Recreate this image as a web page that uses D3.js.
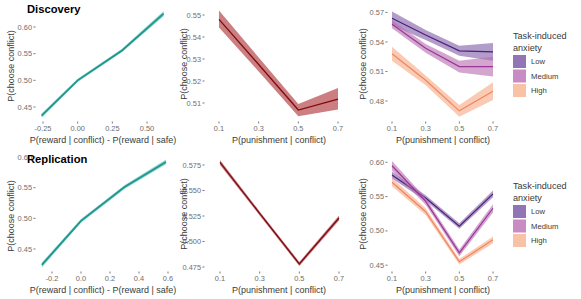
<!DOCTYPE html>
<html><head><meta charset="utf-8">
<script src="https://cdn.jsdelivr.net/npm/d3@7"></script>
<style>
html,body{margin:0;padding:0;background:#fff;}
svg{display:block;font-family:"Liberation Sans",Arial,sans-serif;}
</style></head>
<body>
<svg id="c" width="581" height="299"></svg>
<script>
// ---------- DATA ----------
const rewardX_disc  = [-0.26, 0.0, 0.32, 0.62];
const rewardP_disc  = [0.434, 0.500, 0.556, 0.625];
const rewardLo_disc = [0.430, 0.497, 0.553, 0.620];
const rewardHi_disc = [0.438, 0.503, 0.559, 0.630];

const rewardX_rep  = [-0.27, 0.0, 0.30, 0.586];
const rewardP_rep  = [0.424, 0.496, 0.551, 0.592];
const rewardLo_rep = [0.420, 0.493, 0.548, 0.588];
const rewardHi_rep = [0.428, 0.499, 0.554, 0.596];

const punishX = [0.1, 0.3, 0.5, 0.7];
const punishP_disc  = [0.548, 0.5275, 0.5068, 0.5118];
const punishLo_disc = [0.5443, 0.5243, 0.5040, 0.5070];
const punishHi_disc = [0.5520, 0.5307, 0.5096, 0.5168];

const punishP_rep  = [0.5775, 0.5275, 0.4780, 0.5230];
const punishLo_rep = [0.5750, 0.5255, 0.4760, 0.5205];
const punishHi_rep = [0.5800, 0.5295, 0.4800, 0.5255];

const anxietyLevels = ["Low", "Medium", "High"];
const anxDisc = {
  Low:    {p:[0.564, 0.547, 0.531, 0.530], lo:[0.557, 0.542, 0.526, 0.521], hi:[0.571, 0.552, 0.536, 0.539]},
  Medium: {p:[0.558, 0.5335, 0.515, 0.515], lo:[0.554, 0.529, 0.509, 0.505], hi:[0.562, 0.538, 0.521, 0.525]},
  High:   {p:[0.528, 0.501, 0.470, 0.490], lo:[0.521, 0.496, 0.464, 0.481], hi:[0.535, 0.506, 0.476, 0.499]}
};
const anxRep = {
  Low:    {p:[0.5815, 0.548, 0.507, 0.554], lo:[0.5765, 0.544, 0.503, 0.549], hi:[0.5865, 0.552, 0.511, 0.559]},
  Medium: {p:[0.595, 0.543, 0.468, 0.533], lo:[0.588, 0.538, 0.463, 0.527], hi:[0.602, 0.548, 0.473, 0.539]},
  High:   {p:[0.571, 0.528, 0.455, 0.487], lo:[0.565, 0.523, 0.451, 0.482], hi:[0.577, 0.533, 0.459, 0.492]}
};

const rewardTicks_disc = [-0.25, 0, 0.25, 0.5];
const rewardTickLabels_disc = ["-0.25", "0.00", "0.25", "0.50"];
const rewardTicks_rep = [-0.2, 0, 0.2, 0.4, 0.6];
const rewardTickLabels_rep = ["-0.2", "0.0", "0.2", "0.4", "0.6"];
const punishTicks = [0.1, 0.3, 0.5, 0.7];
const punishTickLabels = ["0.1", "0.3", "0.5", "0.7"];

const yTicks_p1d = [0.45, 0.50, 0.55, 0.60], yLab_p1d = ["0.45","0.50","0.55","0.60"];
const yTicks_p2d = [0.51, 0.52, 0.53, 0.54, 0.55], yLab_p2d = ["0.51","0.52","0.53","0.54","0.55"];
const yTicks_p3d = [0.48, 0.51, 0.54, 0.57], yLab_p3d = ["0.48","0.51","0.54","0.57"];
const yTicks_p1r = [0.45, 0.50, 0.55, 0.60], yLab_p1r = ["0.45","0.50","0.55","0.60"];
const yTicks_p2r = [0.475, 0.5, 0.525, 0.55, 0.575], yLab_p2r = ["0.475","0.500","0.525","0.550","0.575"];
const yTicks_p3r = [0.45, 0.50, 0.55, 0.60], yLab_p3r = ["0.45","0.50","0.55","0.60"];

const titles = ["Discovery", "Replication"];
const yTitle = "P(choose conflict)";
const xTitleReward = "P(reward | conflict) - P(reward | safe)";
const xTitlePunish = "P(punishment | conflict)";
const legendTitle = ["Task-induced", "anxiety"];

// ---------- STYLE ----------
const anxFill = {Low:"#7e5aa6", Medium:"#b66bb0", High:"#f7a882"};
const anxLine = {Low:"#4b1f7a", Medium:"#9c3596", High:"#f0855e"};
const anxKey  = {Low:"#9275b6", Medium:"#c98bc4", High:"#f8c2a6"};

const svg = d3.select("#c");
const tickCol = "#6e6e6e", titleCol = "#3a3a3a";
const tickFont = 7.4, axisFont = 9.0;

function panel(o){
  const x = d3.scaleLinear().domain(o.xd).range(o.xr);
  const y = d3.scaleLinear().domain(o.yd).range(o.yr);
  const g = svg.append("g");
  o.yt.forEach((t,i)=>{
    g.append("line").attr("x1",o.left-2.5).attr("x2",o.left-0.5)
      .attr("y1",y(t)).attr("y2",y(t)).attr("stroke","#555").attr("stroke-width",0.8);
    g.append("text").attr("x",o.left-4).attr("y",y(t)).attr("dy","0.35em")
      .attr("text-anchor","end").attr("font-size",tickFont).attr("fill",tickCol).text(o.yl[i]);
  });
  o.xt.forEach((t,i)=>{
    g.append("line").attr("x1",x(t)).attr("x2",x(t))
      .attr("y1",o.bottom+0.5).attr("y2",o.bottom+2.5).attr("stroke","#555").attr("stroke-width",0.8);
    g.append("text").attr("x",x(t)).attr("y",o.bottom+9.8)
      .attr("text-anchor","middle").attr("font-size",tickFont).attr("fill",tickCol).text(o.xl[i]);
  });
  g.append("text").attr("x",o.xtc).attr("y",o.bottom+21.5)
    .attr("text-anchor","middle").attr("font-size",axisFont).attr("fill",titleCol).text(o.xTitle);
  g.append("text").attr("transform",`translate(${o.ytx},${o.yty}) rotate(-90)`)
    .attr("text-anchor","middle").attr("font-size",axisFont).attr("fill",titleCol).text(yTitle);
  o.series.forEach(s=>{
    const idx = d3.range(s.x.length);
    const area = d3.area().x(i=>x(s.x[i])).y0(i=>y(s.lo[i])).y1(i=>y(s.hi[i]));
    const line = d3.line().x(i=>x(s.x[i])).y(i=>y(s.p[i]));
    g.append("path").attr("d",area(idx)).attr("fill",s.fill).attr("fill-opacity",s.fo);
    g.append("path").attr("d",line(idx)).attr("fill","none").attr("stroke",s.line).attr("stroke-width",s.lw);
  });
}

const rows = [
  {yoff:0, rx:rewardX_disc, rp:rewardP_disc, rlo:rewardLo_disc, rhi:rewardHi_disc,
   rt:rewardTicks_disc, rl:rewardTickLabels_disc, pp:punishP_disc, plo:punishLo_disc, phi:punishHi_disc, anx:anxDisc,
   p1:{xd:[-0.25,0.5], xr:[43,147], yd:[0.45,0.60], yr:[107,27], yt:yTicks_p1d, yl:yLab_p1d},
   p2:{xd:[0.1,0.7], xr:[219,338], yd:[0.51,0.55], yr:[103,15], yt:yTicks_p2d, yl:yLab_p2d},
   p3:{xd:[0.1,0.7], xr:[392,493], yd:[0.48,0.57], yr:[101,12.4], yt:yTicks_p3d, yl:yLab_p3d}},
  {yoff:150, rx:rewardX_rep, rp:rewardP_rep, rlo:rewardLo_rep, rhi:rewardHi_rep,
   rt:rewardTicks_rep, rl:rewardTickLabels_rep, pp:punishP_rep, plo:punishLo_rep, phi:punishHi_rep, anx:anxRep,
   p1:{xd:[-0.2,0.6], xr:[52,168], yd:[0.45,0.60], yr:[249,157], yt:yTicks_p1r, yl:yLab_p1r},
   p2:{xd:[0.1,0.7], xr:[220,339], yd:[0.475,0.575], yr:[267,165], yt:yTicks_p2r, yl:yLab_p2r},
   p3:{xd:[0.1,0.7], xr:[392,493], yd:[0.45,0.60], yr:[265.2,162.3], yt:yTicks_p3r, yl:yLab_p3r}}
];

rows.forEach((r,ri)=>{
  const b = 121 + r.yoff;
  panel(Object.assign({}, r.p1, {left:36, bottom:b, xt:r.rt, xl:r.rl, xTitle:xTitleReward,
    xtc:103, ytx:14, yty:66+r.yoff,
    series:[{x:r.rx, p:r.rp, lo:r.rlo, hi:r.rhi, fill:"#3fb3a8", fo:0.55, line:"#1f978e", lw:1.8}]}));
  panel(Object.assign({}, r.p2, {left:205, bottom:b, xt:punishTicks, xl:punishTickLabels, xTitle:xTitlePunish,
    xtc:279, ytx:187, yty:64+r.yoff,
    series:[{x:punishX, p:r.pp, lo:r.plo, hi:r.phi, fill:"#b0393d", fo:0.65, line:"#7a0c12", lw:1.3}]}));
  panel(Object.assign({}, r.p3, {left:388, bottom:b, xt:punishTicks, xl:punishTickLabels, xTitle:xTitlePunish,
    xtc:443, ytx:366, yty:64+r.yoff,
    series:anxietyLevels.map(k=>({x:punishX, p:r.anx[k].p, lo:r.anx[k].lo, hi:r.anx[k].hi,
      fill:anxFill[k], fo:0.6, line:anxLine[k], lw:1.2}))}));
  svg.append("text").attr("x",27).attr("y",13+r.yoff).attr("font-size",11.2).attr("font-weight","bold")
    .attr("fill","#000").text(titles[ri]);
  const lg = svg.append("g").attr("transform",`translate(513,${r.yoff})`);
  lg.append("text").attr("x",0).attr("y",39).attr("font-size",9.1).attr("fill",titleCol).text(legendTitle[0]);
  lg.append("text").attr("x",0).attr("y",50.5).attr("font-size",9.1).attr("fill",titleCol).text(legendTitle[1]);
  anxietyLevels.forEach((k,i)=>{
    lg.append("rect").attr("x",0).attr("y",55+i*14.5).attr("width",13).attr("height",13).attr("fill",anxKey[k]);
    lg.append("text").attr("x",18).attr("y",61.5+i*14.5).attr("dy","0.35em").attr("font-size",7.7)
      .attr("fill",titleCol).text(k);
  });
});
</script>
</body></html>
